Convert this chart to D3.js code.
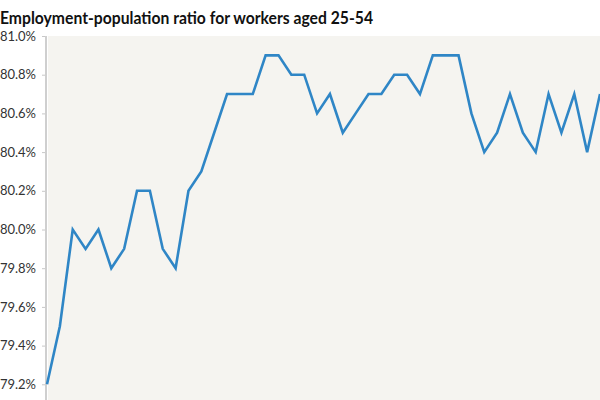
<!DOCTYPE html>
<html>
<head>
<meta charset="utf-8">
<script src="https://cdnjs.cloudflare.com/ajax/libs/d3/7.8.5/d3.min.js"></script>
<style>
  html, body { margin: 0; padding: 0; background: #fff; overflow: hidden; }
  svg { display: block; }
</style>
</head>
<body>
<div id="chart"></div>
<script>
// Employment-population ratio, prime-age workers, monthly readings (percent)
var ratio = [79.2, 79.5, 80.0, 79.9, 80.0, 79.8, 79.9, 80.2, 80.2, 79.9,
             79.8, 80.2, 80.3, 80.5, 80.7, 80.7, 80.7, 80.9, 80.9, 80.8,
             80.8, 80.6, 80.7, 80.5, 80.6, 80.7, 80.7, 80.8, 80.8, 80.7,
             80.9, 80.9, 80.9, 80.6, 80.4, 80.5, 80.7, 80.5, 80.4, 80.7,
             80.5, 80.7, 80.4, 80.7];
var yTicks = [79.2, 79.4, 79.6, 79.8, 80.0, 80.2, 80.4, 80.6, 80.8, 81.0];
var title = "Employment-population ratio for workers aged 25-54";

var width = 600,
    height = 400;

var svg = d3.select("#chart").append("svg")
    .attr("width", width)
    .attr("height", height);

var x = d3.scaleLinear()
    .domain([0, ratio.length - 1])
    .range([47, 600]);

var y = d3.scaleLinear()
    .domain([79.0, 81.0])
    .range([423, 36]);

// plot background
svg.append("rect")
    .attr("x", 48)
    .attr("y", y(81.0))
    .attr("width", width - 48)
    .attr("height", height - y(81.0) + 30)
    .attr("fill", "#f5f4f0");

svg.append("text")
    .attr("x", 0)
    .attr("y", 24)
    .attr("font-family", "Lato, sans-serif")
    .attr("font-weight", "bold")
    .attr("font-size", 16.5)
    .attr("fill", "#111")
    .attr("textLength", 373)
    .attr("lengthAdjust", "spacingAndGlyphs")
    .text(title);

var yAxis = d3.axisLeft(y)
    .tickValues(yTicks)
    .tickSize(4)
    .tickPadding(6)
    .tickFormat(function(d) { return d3.format(".1f")(d) + "%"; });

var gy = svg.append("g")
    .attr("transform", "translate(46,0)")
    .call(yAxis);

gy.select(".domain").remove();
gy.append("line")
    .attr("x1", 0).attr("x2", 0)
    .attr("y1", y(81.0)).attr("y2", height + 10)
    .attr("stroke", "#cfcfcf")
    .attr("stroke-width", 2);
gy.selectAll(".tick line").attr("stroke", "#c8c8c8");
gy.selectAll(".tick text")
    .attr("font-family", "Lato, sans-serif")
    .attr("font-size", 13)
    .attr("fill", "#333");

var line = d3.line()
    .x(function(d, i) { return x(i); })
    .y(function(d) { return y(d); });

svg.append("path")
    .datum(ratio)
    .attr("d", line)
    .attr("fill", "none")
    .attr("stroke", "#2f86c6")
    .attr("stroke-width", 2.6)
    .attr("stroke-linejoin", "miter");
</script>
</body>
</html>
